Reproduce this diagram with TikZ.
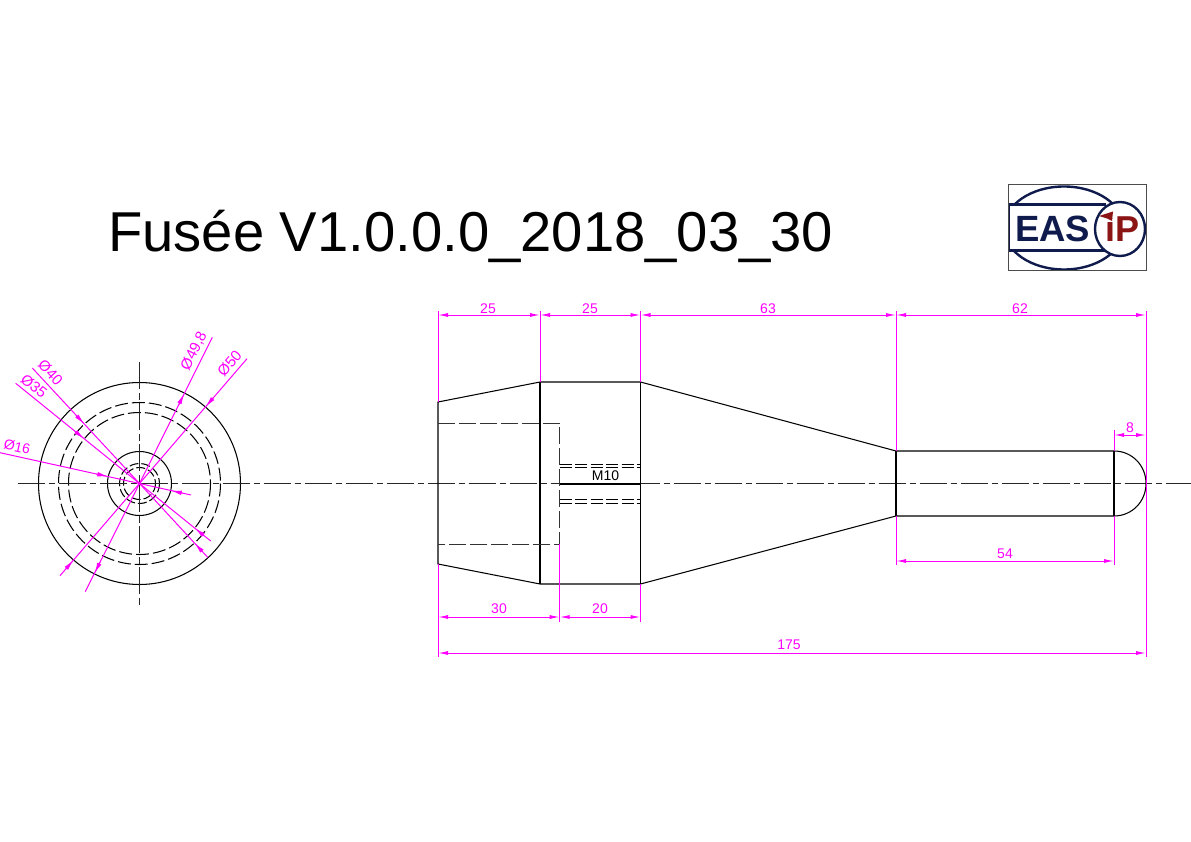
\documentclass[tikz,border=0pt]{standalone}
\usepackage{fontspec}
\setmainfont{Liberation Sans}
\usetikzlibrary{arrows.meta,calc}
\definecolor{mag}{HTML}{FF00FF}
\definecolor{navy}{HTML}{0F1B4C}
\definecolor{logored}{HTML}{8B1414}
\tikzset{
  part/.style={draw=black,line width=1.05pt},
  hidden/.style={draw=black!80,line width=1pt,dash pattern=on 17pt off 4pt},
  hiddenc/.style={draw=black,line width=1.05pt,dash pattern=on 13pt off 4pt},
  thread/.style={draw=black,line width=1pt,dash pattern=on 12pt off 3.5pt},
  axis/.style={draw=black!85,line width=1pt,dash pattern=on 27pt off 4pt on 6.5pt off 3.5pt},
  ext/.style={draw=mag,line width=1pt},
  dim/.style={draw=mag,line width=1pt,{Latex[length=10pt,width=4pt]}-{Latex[length=10pt,width=4pt]}},
  tipline/.style={draw=mag,line width=1pt,-{Latex[length=11pt,width=4.5pt]}},
  dimtext/.style={text=mag,font=\fontsize{14}{16}\selectfont,inner sep=0pt},
  leadertext/.style={text=mag,font=\fontsize{15}{17}\selectfont,inner sep=0pt},
}
\begin{document}
\begin{tikzpicture}[x=1pt,y=-1pt]
\useasboundingbox (0,0) rectangle (1191,842);
% title
\node[anchor=base west,inner sep=0pt,font=\fontsize{56.2}{60}\selectfont] (title) at (108,252) {Fusée V1.0.0.0\_2018\_03\_30};
% logo
\begin{scope}
\clip (1008,185) rectangle (1146,271);
\draw[navy,line width=2.4pt] (1064,228) ellipse [x radius=60,y radius=41.5];
\end{scope}
\fill[white] (1010,205) rectangle (1112,250);
\draw[navy,line width=2.4pt] (1009,204.5) -- (1106,204.5);
\draw[navy,line width=2.4pt] (1009,250.5) -- (1106,250.5);
\draw[navy,line width=2.4pt] (1009,204.5) -- (1009,250.5);
\draw[navy,line width=2.4pt,fill=white] (1120,229) ellipse [x radius=25,y radius=27];
\draw[black!70,line width=1pt] (1008,185) rectangle (1146,271);
\node[anchor=base west,inner sep=0pt,text=navy,font=\fontsize{36.5}{40}\bfseries\selectfont] (eas) at (1015,242) {EAS};
\node[anchor=base west,inner sep=0pt,text=logored,font=\fontsize{36}{40}\bfseries\selectfont] (ip) at (1105,242) {iP};
\fill[white] (1103,212) rectangle (1115,218);
\fill[logored] (1099,216) -- (1113,211.5) -- (1112,221) -- (1107,218.5) -- cycle;
% front view
\coordinate (c) at (139.5,483.5);
\draw[part] (c) circle [radius=101];
\draw[part] (c) circle [radius=32];
\draw[hiddenc] (c) circle [radius=81];
\draw[hiddenc] (c) circle [radius=71];
\draw[hiddenc,dash pattern=on 9pt off 3pt] (c) circle [radius=20];
\draw[hiddenc,dash pattern=on 9pt off 3pt] (c) circle [radius=16];
% axes
\coordinate (axL) at (17.5,483.5);
\coordinate (axR) at (1191,483.5);
\draw[axis] (axL) -- (axR);
\coordinate (vT) at (139.5,362);
\coordinate (vB) at (139.5,606);
\draw[axis] (vT) -- (vB);
% leaders
\coordinate (a498) at (212.3,337.3); \coordinate (b498) at (85.3,591.7);
\coordinate (a50) at (247,358.7);    \coordinate (b50) at (60,575.7);
\coordinate (a40) at (32.3,368);     \coordinate (b40) at (207.7,557.3);
\coordinate (a35) at (15.7,383.3);   \coordinate (b35) at (210.7,541);
\coordinate (a16) at (0,452.7);      \coordinate (b16) at (191,495);
\foreach \p in {498,50,40,35,16}{\draw[ext] (a\p) -- (c) -- (b\p);}
% arrowheads (outside, pointing inward)
\foreach \p/\r in {a50/101,b50/101,a40/81,b40/81,a35/71,b35/71,a16/32,b16/32}{
  \draw[tipline] ($(c)!\r pt+12pt!(\p)$) -- ($(c)!\r pt!(\p)$);
}
% arrowheads (inside, pointing outward)
\foreach \p in {a498,b498}{
  \draw[tipline] ($(c)!88pt!(\p)$) -- ($(c)!100.6pt!(\p)$);
}
\node[leadertext,rotate=63.4] (t498) at (194,351) {Ø49,8};
\node[leadertext,rotate=49] (t50) at (229.5,363.5) {Ø50};
\node[leadertext,rotate=-47] (t40) at (50.5,372.5) {Ø40};
\node[leadertext,rotate=-39] (t35) at (34,386) {Ø35};
\node[leadertext,rotate=-12.6,font=\fontsize{14}{16}\selectfont] (t16) at (17,447) {Ø16};
% side view
\draw[part] (438,402) -- (540,382) -- (640.5,382) -- (896,451) -- (1114,451)
  .. controls (1132,451) and (1146,465.5) .. (1146,483.5)
  .. controls (1146,501.5) and (1132,516) .. (1114,516)
  -- (896,516) -- (640.5,584) -- (540,584) -- (438,564) -- cycle;
\draw[part] (540,382) -- (540,584);
\draw[part] (640.5,382) -- (640.5,584);
\draw[part] (896,451) -- (896,516);
\draw[part] (1114,451) -- (1114,516);
\draw[hidden] (438,423) -- (559.7,423) -- (559.7,544) -- (438,544);
\foreach \y in {464,467.5,499.5,503.5}{\draw[thread] (559.7,\y) -- (640.5,\y);}
\draw[part] (559.7,484) -- (640.5,484);
\node[anchor=base,inner sep=0pt,font=\fontsize{14}{15}\selectfont] (m10) at (605.5,480) {M10};
% extension lines
\foreach \x/\yy/\yz in {438/311/402,540/311/382,640.5/311/382,896/311/451,1146/311/657,1114/430/451,1114/516/565,896/516/565,438/564/657,559.7/544/622,640.5/584/622}{
  \draw[ext] (\x,\yy) -- (\x,\yz);
}
% dimensions
\foreach \xa/\xb/\yy in {438/540/315,540/640.5/315,640.5/896/315,896/1146/315,1114/1146/435,896/1114/561,438/559.7/617,559.7/640.5/617,438/1146/653}{
  \draw[dim] (\xa,\yy) -- (\xb,\yy);
}
\foreach \x/\y/\t in {488/313/25,590/313/25,768/313/63,1020/313/62,1130/432/8,1005/558/54,499/613/30,600/613/20,789/649/175}{
  \node[dimtext,anchor=base] at (\x,\y) {\t};
}
\end{tikzpicture}
\end{document}
